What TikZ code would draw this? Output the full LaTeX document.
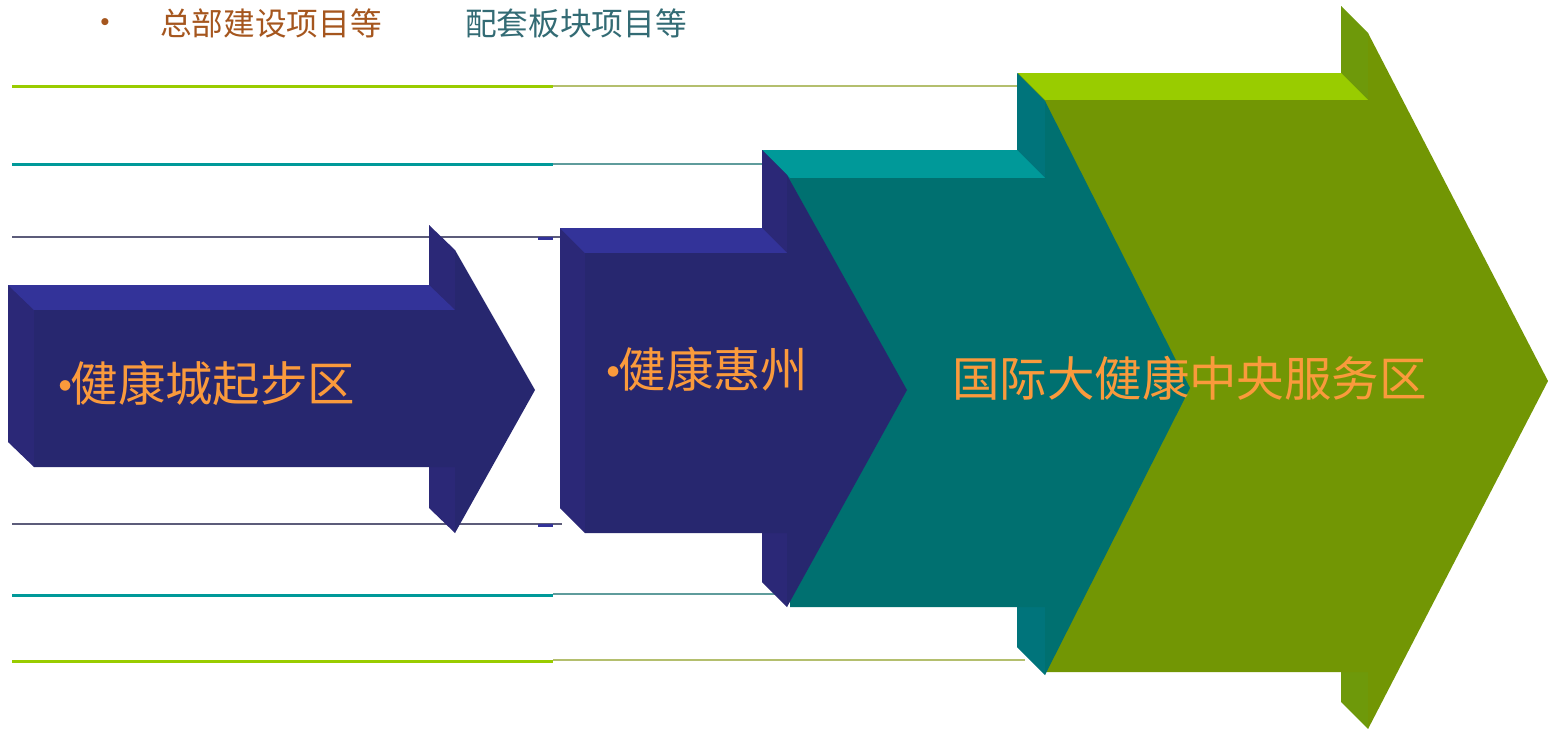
\documentclass[tikz,border=0pt]{standalone}
\usepackage{fontspec}
\usepackage{xcolor}
\usepackage{tikz}
\newfontfamily\cjk{Noto Sans CJK SC}
\usetikzlibrary{positioning,calc}

\definecolor{navyfront}{HTML}{27276F}
\definecolor{navytop}{HTML}{333399}
\definecolor{navyside}{HTML}{2B2877}
\definecolor{tealfront}{HTML}{007070}
\definecolor{tealtop}{HTML}{009999}
\definecolor{tealside}{HTML}{00747B}
\definecolor{greenfront}{HTML}{729604}
\definecolor{greentop}{HTML}{99CC00}
\definecolor{greenside}{HTML}{6E990A}
\definecolor{lineolive}{HTML}{99CC00}
\definecolor{lineteal}{HTML}{009999}
\definecolor{linegray}{HTML}{5C5C7A}
\definecolor{thinolive}{HTML}{B4BF6E}
\definecolor{thinteal}{HTML}{5F9C9C}
\definecolor{labelorange}{HTML}{FA9A3C}
\definecolor{topbrown}{HTML}{A5561E}
\definecolor{topteal}{HTML}{336B74}

\newcommand{\dotmark}{{\normalfont\raisebox{1.5pt}{\textbullet}}}

\begin{document}
\begin{tikzpicture}[x=0.02cm,y=-0.02cm,
    thickline/.style={line width=1.7pt},
    thinline/.style={line width=1pt},
    bigtxt/.style={font=\cjk\fontsize{27}{30}\selectfont,text=labelorange,inner sep=0pt,anchor=west},
    toptxt/.style={font=\cjk\fontsize{18}{20}\selectfont,inner sep=0pt}]
    \useasboundingbox (0,0) rectangle (1548,728);
    % Guide lines
    \draw[thickline,lineolive] (12,86) -- (553,86);
    \draw[thinline,thinolive] (553,86) -- (1020,86);
    \draw[thickline,lineteal] (12,164) -- (553,164);
    \draw[thinline,thinteal] (553,164) -- (765,164);
    \draw[thinline,linegray] (12,237) -- (562,237);
    \draw[thickline,navytop] (538,238) -- (553,238);
    \draw[thinline,linegray] (12,524) -- (562,524);
    \draw[thickline,navytop] (538,525) -- (553,525);
    \draw[thickline,lineteal] (12,595) -- (553,595);
    \draw[thinline,thinteal] (553,594) -- (780,594);
    \draw[thickline,lineolive] (12,661) -- (553,661);
    \draw[thinline,thinolive] (553,660) -- (1025,660);
    % Green arrow
    \fill[greenside] (1018,73) -- (1341,73) -- (1341,6) -- (1521,354) -- (1341,702) -- (1341,645) -- (1018,645) -- cycle;
    \fill[greenside] (1341,6) -- (1368,33) -- (1368,729) -- (1341,702) -- cycle;
    \fill[greentop] (1018,73) -- (1341,73) -- (1368,100) -- (1045,100) -- cycle;
    \fill[greenfront] (1045,100) -- (1368,100) -- (1368,33) -- (1548,381) -- (1368,729) -- (1368,672) -- (1045,672) -- cycle;
    % Teal arrow
    \fill[tealside] (762,150) -- (1017,150) -- (1017,73) -- (1162,360) -- (1017,647) -- (1017,579) -- (762,579) -- cycle;
    \fill[tealside] (1017,73) -- (1045,101) -- (1045,675) -- (1017,647) -- cycle;
    \fill[tealtop] (762,150) -- (1017,150) -- (1045,178) -- (790,178) -- cycle;
    \fill[tealfront] (790,178) -- (1045,178) -- (1045,101) -- (1190,388) -- (1045,675) -- (1045,607) -- (790,607) -- cycle;
    % Second navy arrow
    \fill[navyside] (560,228) -- (762,228) -- (762,150) -- (882,365) -- (762,582) -- (762,508) -- (560,508) -- cycle;
    \fill[navyside] (560,228) -- (585,253) -- (585,533) -- (560,508) -- cycle;
    \fill[navyside] (762,150) -- (787,175) -- (787,607) -- (762,582) -- cycle;
    \fill[navytop] (560,228) -- (762,228) -- (787,253) -- (585,253) -- cycle;
    \fill[navyfront] (585,253) -- (787,253) -- (787,175) -- (907,390) -- (787,607) -- (787,533) -- (585,533) -- cycle;
    % First navy arrow
    \fill[navyside] (8,285) -- (429,285) -- (429,225) -- (509,365) -- (429,508) -- (429,442) -- (8,442) -- cycle;
    \fill[navyside] (8,285) -- (34,310) -- (34,467) -- (8,442) -- cycle;
    \fill[navyside] (429,225) -- (455,250) -- (455,533) -- (429,508) -- cycle;
    \fill[navytop] (8,285) -- (429,285) -- (455,310) -- (34,310) -- cycle;
    \fill[navyfront] (34,310) -- (455,310) -- (455,250) -- (535,390) -- (455,533) -- (455,467) -- (34,467) -- cycle;
    % Labels
    \node[bigtxt] (start) at (48,383) {\dotmark\kern-0.25em 健康城起步区};
    \node[bigtxt] (huizhou) at (596,369) {\dotmark\kern-0.25em 健康惠州};
    \node[bigtxt] (centre) at (952,378) {国际大健康中央服务区};
    % Legend
    \node[toptxt,text=topbrown] (dot) at (105,26) {\dotmark};
    \node[toptxt,text=topbrown,anchor=west] (hq) at (160,23) {总部建设项目等};
    \node[toptxt,text=topteal,anchor=west] (support) at (465,23) {配套板块项目等};
\end{tikzpicture}
\end{document}
